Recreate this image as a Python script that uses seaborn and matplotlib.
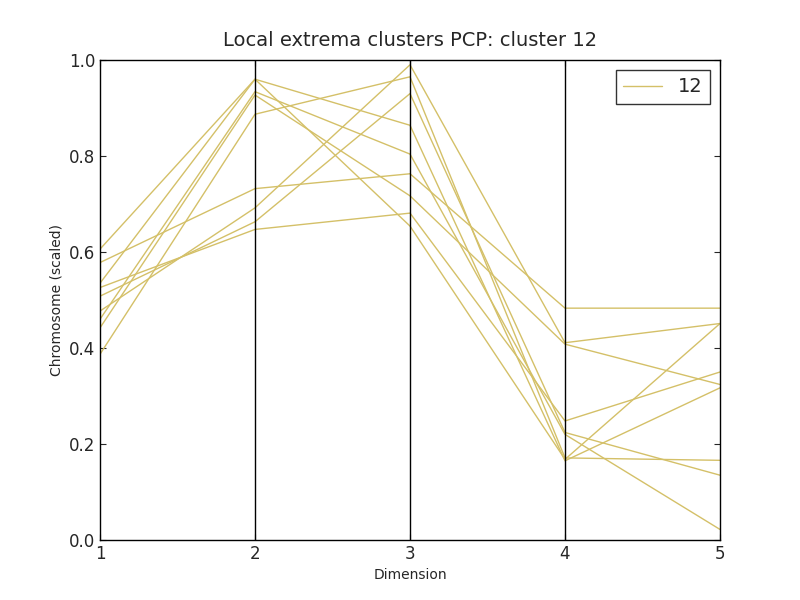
import pandas as pd
import matplotlib
matplotlib.use('Agg')
import matplotlib.pyplot as plt
import seaborn as sns

dims = [1, 2, 3, 4, 5]
# each line: values at dimensions 1..5
line_1 = [0.477, 0.692, 0.990, 0.411, 0.451]
line_2 = [0.387, 0.887, 0.965, 0.171, 0.166]
line_3 = [0.508, 0.663, 0.930, 0.224, 0.135]
line_4 = [0.606, 0.960, 0.864, 0.165, 0.317]
line_5 = [0.460, 0.934, 0.804, 0.220, 0.022]
line_6 = [0.578, 0.732, 0.763, 0.483, 0.483]
line_7 = [0.442, 0.927, 0.717, 0.408, 0.324]
line_8 = [0.526, 0.647, 0.681, 0.248, 0.350]
line_9 = [0.535, 0.960, 0.654, 0.168, 0.451]
lines = [line_1, line_2, line_3, line_4, line_5, line_6, line_7, line_8, line_9]

rows = []
for i, vals in enumerate(lines):
    for d, v in zip(dims, vals):
        rows.append({'line': i, 'Dimension': d, 'value': v, 'cluster': '12'})
df = pd.DataFrame(rows)

sns.set_style('white')
plt.rcParams['font.family'] = ['DejaVu Sans']
fig, ax = plt.subplots(figsize=(8, 6), dpi=100)
fig.subplots_adjust(left=0.125, right=0.9, bottom=0.1, top=0.9)

sns.lineplot(data=df, x='Dimension', y='value', units='line', estimator=None,
             hue='cluster', palette=['#d4c068'], linewidth=1, ax=ax)

for x in [2, 3, 4]:
    ax.axvline(x, color='black', linewidth=1)

ax.set_xlim(1, 5)
ax.set_ylim(0, 1)
ax.set_xticks(dims)
ax.set_yticks([0.0, 0.2, 0.4, 0.6, 0.8, 1.0])
ax.set_xlabel('Dimension')
ax.set_ylabel('Chromosome (scaled)')
ax.set_title('Local extrema clusters PCP: cluster 12', fontsize=14, pad=10)
ax.tick_params(direction='in', top=True, right=True, length=4, labelsize=12,
               left=True, bottom=True)
for s in ax.spines.values():
    s.set_color('black')
    s.set_linewidth(1)

leg = ax.legend(title=None, loc='upper right', fontsize=14, frameon=True, fancybox=False)
leg.get_frame().set_edgecolor('black')

fig.savefig('out.png')
